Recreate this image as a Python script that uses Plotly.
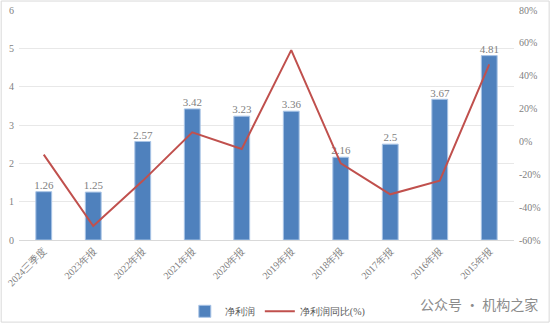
import plotly.graph_objects as go

categories = ["2024三季度", "2023年报", "2022年报", "2021年报", "2020年报",
              "2019年报", "2018年报", "2017年报", "2016年报", "2015年报"]
net_profit = [1.26, 1.25, 2.57, 3.42, 3.23, 3.36, 2.16, 2.5, 3.67, 4.81]
net_profit_labels = ["1.26", "1.25", "2.57", "3.42", "3.23", "3.36", "2.16", "2.5", "3.67", "4.81"]
yoy_pct = [-8, -51.5, -24, 5.5, -4.6, 55.6, -13.3, -32.2, -23.9, 46.9]
left_ticks = [0, 1, 2, 3, 4, 5, 6]
right_ticks = [-60, -40, -20, 0, 20, 40, 60, 80]
right_tick_labels = ["-60%", "-40%", "-20%", "0%", "20%", "40%", "60%", "80%"]

serif = "Liberation Serif, DejaVu Serif, serif"

fig = go.Figure()
fig.add_trace(go.Bar(
    x=categories, y=net_profit, name="净利润",
    marker=dict(color="#4F81BD", line=dict(color="#A9C4E6", width=1)),
    width=0.32,
))
fig.add_trace(go.Scatter(
    x=categories, y=net_profit, mode="text", text=net_profit_labels,
    textposition="top center", showlegend=False, hoverinfo="skip",
    textfont=dict(family=serif, size=11, color="#7f7f7f"),
    cliponaxis=False,
))
fig.add_trace(go.Scatter(
    x=categories, y=yoy_pct, name="净利润同比(%)", yaxis="y2",
    mode="lines", line=dict(color="#C0504D", width=2),
))

fig.update_layout(
    width=552, height=325,
    margin=dict(l=19, r=38, t=10, b=85, autoexpand=False),
    paper_bgcolor="white", plot_bgcolor="white",
    showlegend=True,
    legend=dict(orientation="h", x=0.335, y=-0.31, xanchor="left", yanchor="middle",
                font=dict(family=serif, size=10, color="#595959"),
                itemwidth=30, bgcolor="rgba(0,0,0,0)"),
    xaxis=dict(tickangle=-45, tickfont=dict(family=serif, size=10, color="#7f7f7f"),
               showgrid=False, showline=True, linecolor="#d9d9d9", ticks="",
               automargin=False),
    yaxis=dict(range=[0, 6], tickvals=left_ticks, showgrid=True, gridcolor="#e8e8e8",
               zeroline=False, tickfont=dict(family=serif, size=10, color="#7f7f7f"),
               ticklabelstandoff=4, automargin=False),
    yaxis2=dict(range=[-60, 80], tickvals=right_ticks, ticktext=right_tick_labels,
                overlaying="y", side="right", showgrid=False, zeroline=False,
                tickfont=dict(family=serif, size=10, color="#7f7f7f"),
                ticklabelstandoff=4, automargin=False),
    bargap=0.6,
    shapes=[dict(type="rect", xref="paper", yref="paper",
                 x0=-0.036, x1=1.071, y0=-0.357, y1=1.039,
                 line=dict(color="#d9d9d9", width=1))],
    annotations=[dict(text="公众号 · 机构之家", xref="paper", yref="paper",
                      x=0.93, y=-0.28, xanchor="center", yanchor="middle",
                      showarrow=False,
                      font=dict(family="Noto Sans CJK SC", size=14, color="#8c8c8c"))],
)

fig.write_html("out.html")
